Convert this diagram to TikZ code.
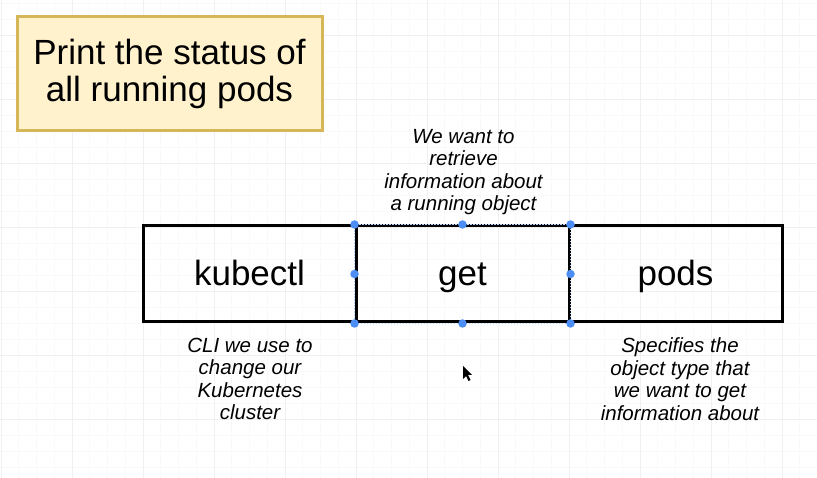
\documentclass[tikz,border=0pt]{standalone}
\usepackage{fontspec}
\setmainfont{Liberation Sans}
\usepackage{tikz}

\definecolor{notefill}{HTML}{FFF2CC}
\definecolor{notedraw}{HTML}{D6B656}
\definecolor{handle}{HTML}{4D8EF5}
\definecolor{gridmin}{HTML}{F9F9FA}
\definecolor{gridmaj}{HTML}{F0F0F4}

\begin{document}
\begin{tikzpicture}[x=1pt,y=-1pt,
        cmdbox/.style={shape=rectangle,draw=black,line width=3pt,minimum width=213pt,minimum height=96pt,inner sep=0pt,text height=30pt,text depth=6pt,font=\fontsize{35}{37}\selectfont},
        remark/.style={align=center,font=\fontsize{20.5}{22.6}\selectfont\itshape},
        dot/.style={shape=circle,fill=handle,inner sep=0pt,minimum size=8.5pt}]
        \useasboundingbox (0,0) rectangle (817,478);
        % faint grid of the drawing page
        \foreach \i in {0,...,46} \draw[gridmin,line width=0.8pt] ({1+17.75*\i},0) -- ({1+17.75*\i},478);
        \foreach \j in {0,...,29} \draw[gridmin,line width=0.8pt] (0,{3+16*\j}) -- (817,{3+16*\j});
        \foreach \i in {0,...,11} \draw[gridmaj,line width=0.8pt] ({1+71*\i},0) -- ({1+71*\i},478);
        \foreach \j in {0,...,7} \draw[gridmaj,line width=0.8pt] (0,{35+64*\j}) -- (817,{35+64*\j});
        % title
        \node[shape=rectangle,draw=notedraw,fill=notefill,line width=3pt,minimum width=305pt,minimum height=114pt,align=center,font=\fontsize{35}{36.5}\selectfont] (T) at (169.5,74) {Print the status of\\all running pods};
        % the command
        \node[cmdbox] (K) at (249.5,274) {kubectl};
        \node[cmdbox] (G) at (462.5,274) {get};
        \node[cmdbox] (P) at (675.5,274) {pods};
        \draw[white!60!handle,line width=0.8pt,dash pattern=on 1.5pt off 1.5pt] (G.north west) rectangle (G.south east);
        \foreach \a in {north west,north,north east,east,south east,south,south west,west}
            \node[dot] at (G.\a) {};
        % notes
        \node[remark] (GN) at (463.5,172) {We want to\\retrieve\\information about\\a running object};
        \node[remark] (KN) at (250,379) {CLI we use to\\change our\\Kubernetes\\cluster};
        \node[remark] (PN) at (680,379) {Specifies the\\object type that\\we want to get\\information about};
        % mouse pointer
        \fill[black] (463,366) -- (463,379) -- (466,376) -- (468.5,381) -- (470.5,380) -- (468,375) -- (472,375) -- cycle;
    \end{tikzpicture}
\end{document}
